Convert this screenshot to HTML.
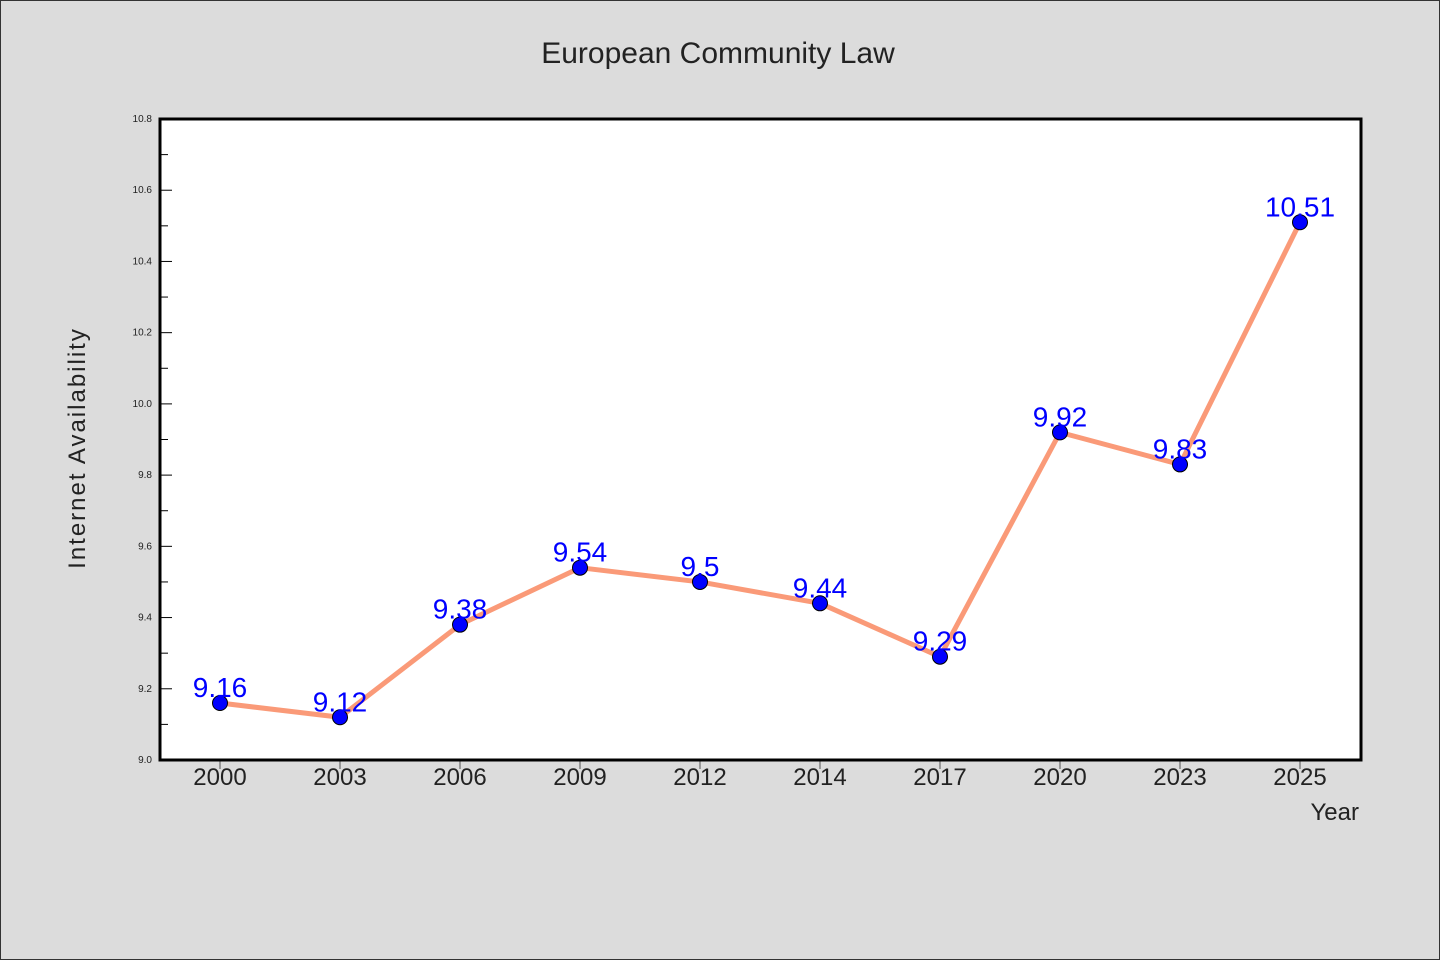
<!DOCTYPE html>
<html><head><meta charset="utf-8"><style>
html,body{margin:0;padding:0;background:#dcdcdc;}
svg{display:block;font-family:"WenQuanYi Zen Hei","Liberation Sans",sans-serif;}
</style></head><body>
<svg id="chart" width="1440" height="960" viewBox="0 0 1440 960">
<rect x="0.5" y="0.5" width="1439" height="959" fill="#dcdcdc" stroke="#333"/>
<text x="718" y="63" text-anchor="middle" font-size="30" fill="#222">European Community Law</text>
<rect x="160" y="119" width="1201" height="641" fill="#fff"/>
<g id="yticks"></g><g id="xticks"></g><g id="series"></g>
<rect x="160" y="119" width="1201" height="641" fill="none" stroke="#000" stroke-width="3"/>
<text transform="translate(85,448) rotate(-90)" text-anchor="middle" font-size="24" fill="#222" letter-spacing="2">Internet Availability</text>
<text x="1359" y="820" text-anchor="end" font-size="24" fill="#222">Year</text>
</svg>
<script>
const categories=["2000","2003","2006","2009","2012","2014","2017","2020","2023","2025"];
const values=[9.16,9.12,9.38,9.54,9.5,9.44,9.29,9.92,9.83,10.51];
const yTickLabels=["9.0","9.2","9.4","9.6","9.8","10.0","10.2","10.4","10.6","10.8"];
const yMin=9.0,yMax=10.8;
const NS="http://www.w3.org/2000/svg";
const L=160,R=1361,T=119,B=760;
function xScale(i){return 220+i*120;}
function yScale(v){return B-(v-yMin)/(yMax-yMin)*(B-T);}
function mk(tag,attrs,parent){const e=document.createElementNS(NS,tag);for(const k in attrs)e.setAttribute(k,attrs[k]);parent.appendChild(e);return e;}
const yt=document.getElementById('yticks');
yTickLabels.forEach(s=>{
  const v=parseFloat(s),y=yScale(v);
  const t=mk('line',{x1:L,x2:L+12,y1:y,y2:y,stroke:'#000','stroke-width':1},yt);
  
  
  const tx=mk('text',{x:152,y:y+3,'text-anchor':'end','font-size':10,fill:'#222'},yt);
  tx.textContent=s;
  
  
  if(v<yMax){const ym=yScale(v+0.1);
    const m=mk('line',{x1:L,x2:L+8,y1:ym,y2:ym,stroke:'#000','stroke-width':1},yt);
    
    }
});
const xt=document.getElementById('xticks');
categories.forEach((c,i)=>{
  const x=xScale(i);
  const t=mk('line',{x1:x,x2:x,y1:B,y2:B+9,stroke:'#555','stroke-width':1},xt);
  
  
  const tx=mk('text',{x:x,y:785,'text-anchor':'middle','font-size':24,fill:'#222'},xt);
  tx.textContent=c;
  
  
});
const sg=document.getElementById('series');
const pts=values.map((v,i)=>xScale(i)+','+yScale(v)).join(' ');
const pl=mk('polyline',{points:pts,fill:'none',stroke:'#fa9a78','stroke-width':5,'stroke-linejoin':'round'},sg);


values.forEach((v,i)=>{
  const c=mk('circle',{cx:xScale(i),cy:yScale(v),r:7.5,fill:'#0000ff',stroke:'#000','stroke-width':1},sg);
  
  
  const t=mk('text',{x:xScale(i),y:yScale(v)-6,'text-anchor':'middle','font-size':28,fill:'#0000ff'},sg);
  t.textContent=String(v);
  
  
});
</script>
</body></html>
